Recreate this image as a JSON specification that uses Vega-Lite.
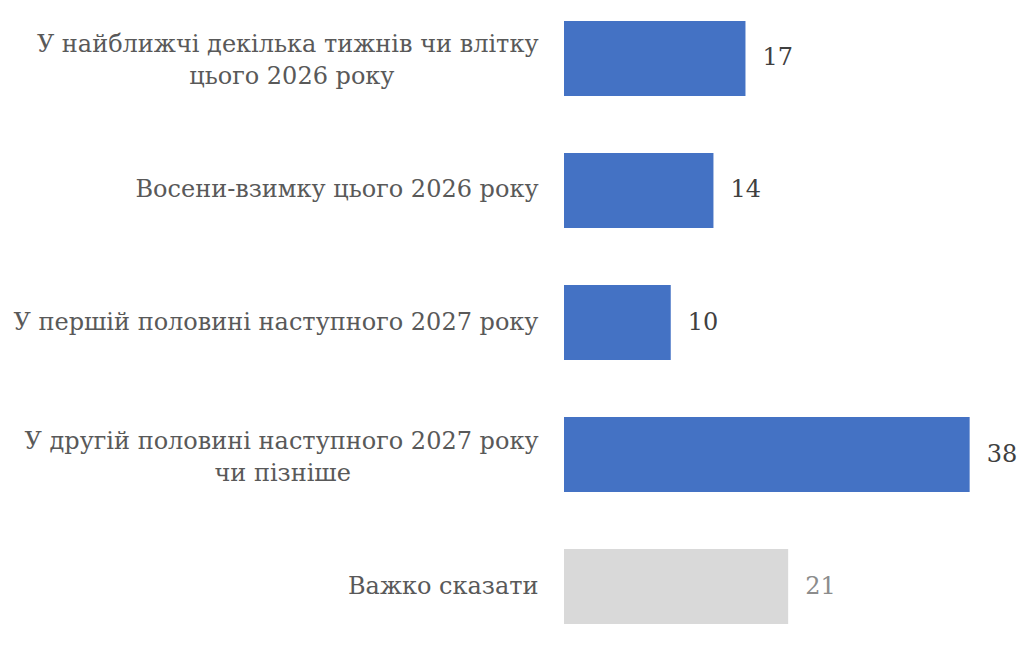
{
  "$schema": "https://vega.github.io/schema/vega-lite/v6.json",
  "autosize": "none",
  "padding": {"left": 564, "top": 0, "right": 39, "bottom": 1},
  "width": 427,
  "height": 645,
  "background": "white",
  "config": {"view": {"stroke": null}},
  "data": {"values": [
    {"cat": "У найближчі декілька тижнів чи влітку|цього 2026 року", "value": 17, "type": "answer"},
    {"cat": "Восени-взимку цього 2026 року", "value": 14, "type": "answer"},
    {"cat": "У першій половині наступного 2027 року", "value": 10, "type": "answer"},
    {"cat": "У другій половині наступного 2027 року|чи пізніше", "value": 38, "type": "answer"},
    {"cat": "Важко сказати", "value": 21, "type": "dk"}
  ]},
  "encoding": {
    "y": {"field": "cat", "type": "nominal", "sort": null,
      "scale": {"paddingInner": 0.432, "paddingOuter": 0.159},
      "axis": {"title": null, "domain": false, "ticks": false, "labelPadding": 26,
        "labelFont": "DejaVu Serif", "labelFontSize": 24, "labelColor": "#595959",
        "labelLimit": 0, "labelLineHeight": 32,
        "labelOffset": {"condition": {"test": "indexof(datum.value, '|') >= 0", "value": -13}, "value": 0},
        "labelExpr": "indexof(datum.label, '|') < 0 ? datum.label : [split(datum.label, '|')[0], split(datum.label, '|')[1] + (indexof(datum.label, 'влітку') >= 0 ? '\u2003\u2003\u2003\u2003\u2003\u2003\u2060' : '\u2003\u2003\u2003\u2003\u2003\u2003\u2003\u2002\u00a0\u2060')]"}},
    "x": {"field": "value", "type": "quantitative", "scale": {"domain": [0, 40]}, "axis": null}
  },
  "layer": [
    {"mark": {"type": "bar"},
     "encoding": {"color": {"field": "type", "type": "nominal", "legend": null,
       "scale": {"domain": ["answer", "dk"], "range": ["#4472C4", "#D9D9D9"]}}}},
    {"mark": {"type": "text", "align": "left", "baseline": "middle", "dx": 17, "font": "DejaVu Serif", "fontSize": 24},
     "encoding": {"text": {"field": "value", "type": "quantitative"},
       "color": {"field": "type", "type": "nominal", "legend": null,
         "scale": {"domain": ["answer", "dk"], "range": ["#404040", "#8C8C8C"]}}}}
  ],
  "resolve": {"scale": {"color": "independent"}}
}
